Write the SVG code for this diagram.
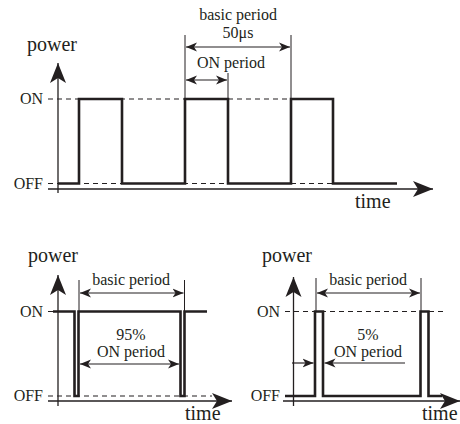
<svg xmlns="http://www.w3.org/2000/svg" width="460" height="424" viewBox="0 0 460 424">
<defs>
<style>
text{font-family:"Liberation Serif","Times New Roman",Times,serif;fill:#231f20}
.big{font-size:20px}
.lab{font-size:16px}
.ax{stroke:#231f20;stroke-width:1.3;fill:none}
.wave{stroke:#231f20;stroke-width:2.6;fill:none;stroke-linejoin:miter}
.dash{stroke:#231f20;stroke-width:1.2;stroke-dasharray:5 4;fill:none}
.thin{stroke:#231f20;stroke-width:1;fill:none}
.dim{stroke:#231f20;stroke-width:1.2;fill:none}
</style>
<marker id="axh" markerUnits="userSpaceOnUse" viewBox="-21 -9 22 18" refX="0" refY="0" markerWidth="22" markerHeight="18" orient="auto">
<path d="M0,0 L-20,-8 L-15,0 L-20,8 Z" fill="#231f20"/>
</marker>
<marker id="dh" markerUnits="userSpaceOnUse" viewBox="-11 -5 12 10" refX="0" refY="0" markerWidth="12" markerHeight="10" orient="auto-start-reverse">
<path d="M0,0 L-11,-4.5 L-8,0 L-11,4.5 Z" fill="#231f20"/>
</marker>
</defs>

<g id="top-chart" font-family="Liberation Serif, serif">
<g id="top-axes">
<line class="ax" x1="58" y1="193" x2="58" y2="63" marker-end="url(#axh)"/>
<line class="ax" x1="48" y1="189" x2="433" y2="189" marker-end="url(#axh)"/>
</g>
<g id="top-levels">
<line class="dash" x1="48" y1="99" x2="291" y2="99"/>
<line class="dash" x1="48" y1="183.5" x2="333" y2="183.5"/>
</g>
<g id="top-wave">
<path class="wave" d="M58,183.5 H79 V99 H122 V183.5 H185 V99 H228 V183.5 H291 V99 H333 V183.5 H397"/>
</g>
<g id="top-labels">
<text class="big" x="27" y="51">power</text>
<text class="lab" x="43" y="104" text-anchor="end">ON</text>
<text class="lab" x="43" y="189" text-anchor="end">OFF</text>
<text class="big" x="355" y="208">time</text>
<text class="lab" x="238" y="20" text-anchor="middle">basic period</text>
<text class="lab" x="238" y="38" text-anchor="middle">50μs</text>
<text class="lab" x="197" y="68">ON period</text>
</g>
</g>

<g id="bottom-left-chart">
<g id="bl-axes">
<line class="ax" x1="58" y1="406" x2="58" y2="275" marker-end="url(#axh)"/>
<line class="ax" x1="48" y1="401" x2="232" y2="401" marker-end="url(#axh)"/>
</g>
<g id="bl-levels">
<line class="dash" x1="48" y1="396" x2="212" y2="396"/>
<line class="thin" x1="48" y1="311.5" x2="53" y2="311.5"/>
</g>
<g id="bl-wave">
<path class="wave" d="M53,311.5 H74.5 V396 H78.5 V311.5 H180.5 V396 H184.5 V311.5 H207"/>
</g>
<g id="bl-labels">
<text class="big" x="28" y="262">power</text>
<text class="lab" x="43" y="317" text-anchor="end">ON</text>
<text class="lab" x="43" y="401" text-anchor="end">OFF</text>
<text class="big" x="185" y="420">time</text>
<text class="lab" x="131" y="285" text-anchor="middle">basic period</text>
<text class="lab" x="131" y="340" text-anchor="middle">95%</text>
<text class="lab" x="131" y="357" text-anchor="middle">ON period</text>
</g>
</g>

<g id="bottom-right-chart">
<g id="br-axes">
<line class="ax" x1="293.5" y1="406" x2="293.5" y2="277" marker-end="url(#axh)"/>
<line class="ax" x1="283" y1="401" x2="460" y2="401" marker-end="url(#axh)"/>
</g>
<g id="br-levels">
<line class="dash" x1="285" y1="311.5" x2="445" y2="311.5"/>
<line class="thin" x1="285" y1="396" x2="291" y2="396"/>
</g>
<g id="br-wave">
<path class="wave" d="M285,396 H315 V311.5 H323 V396 H420.5 V311.5 H428.5 V396 H442"/>
</g>
<g id="br-labels">
<text class="big" x="262" y="262">power</text>
<text class="lab" x="280" y="317" text-anchor="end">ON</text>
<text class="lab" x="280" y="401" text-anchor="end">OFF</text>
<text class="big" x="422" y="420">time</text>
<text class="lab" x="368" y="285" text-anchor="middle">basic period</text>
<text class="lab" x="368" y="340" text-anchor="middle">5%</text>
<text class="lab" x="368" y="357" text-anchor="middle">ON period</text>
</g>
</g>

<g id="connectors">
<line class="thin" x1="185" y1="35" x2="185" y2="99"/>
<line class="thin" x1="291" y1="35" x2="291" y2="99"/>
<line class="thin" x1="228" y1="73" x2="228" y2="99"/>
<line class="dim" x1="186" y1="47" x2="290" y2="47" marker-start="url(#dh)" marker-end="url(#dh)"/>
<line class="dim" x1="186" y1="80" x2="227" y2="80" marker-start="url(#dh)" marker-end="url(#dh)"/>

<line class="thin" x1="79" y1="280" x2="79" y2="311"/>
<line class="thin" x1="184.5" y1="280" x2="184.5" y2="311"/>
<line class="dim" x1="80" y1="293" x2="183.5" y2="293" marker-start="url(#dh)" marker-end="url(#dh)"/>
<line class="dim" x1="80" y1="364" x2="179" y2="364" marker-start="url(#dh)" marker-end="url(#dh)"/>

<line class="thin" x1="316" y1="278" x2="316" y2="311"/>
<line class="thin" x1="421" y1="278" x2="421" y2="311"/>
<line class="dim" x1="317" y1="293" x2="420" y2="293" marker-start="url(#dh)" marker-end="url(#dh)"/>
<line class="dim" x1="292" y1="363" x2="313.5" y2="363" marker-end="url(#dh)"/>
<line class="dim" x1="405" y1="363" x2="324.5" y2="363" marker-end="url(#dh)"/>
</g>
</svg>
